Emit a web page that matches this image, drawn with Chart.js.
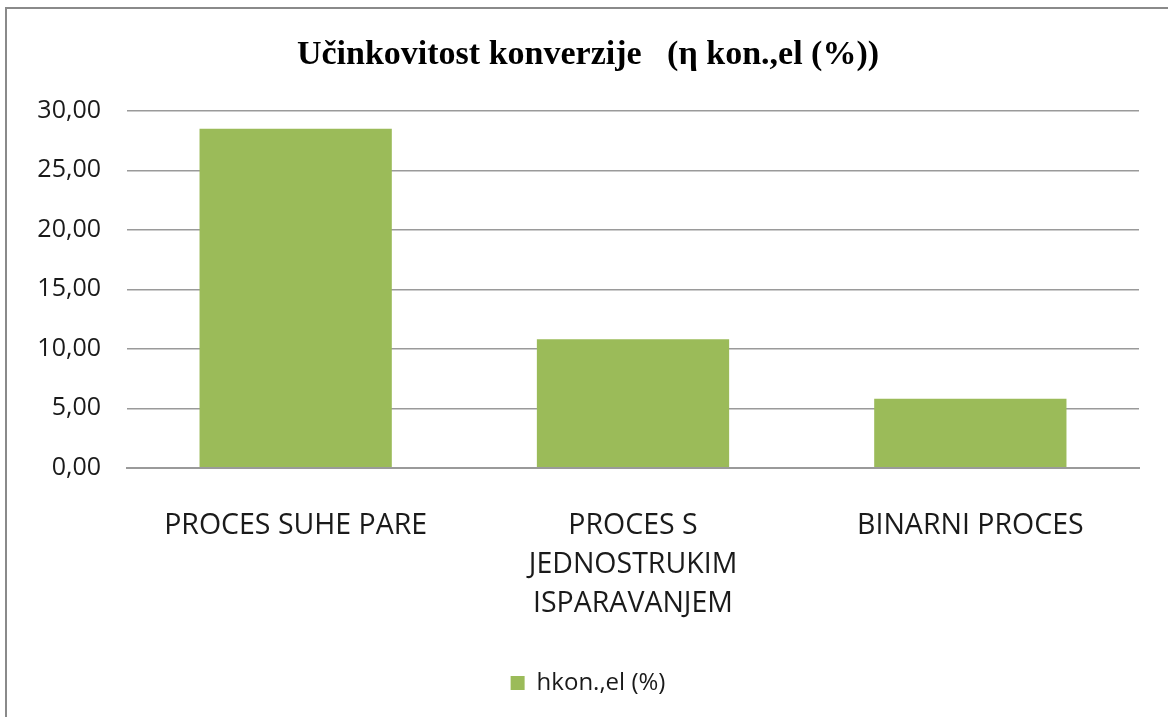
<!DOCTYPE html>
<html>
<head>
<meta charset="utf-8">
<script src="https://cdn.jsdelivr.net/npm/chart.js@4.4.1/dist/chart.umd.min.js"></script>
<style>
  html, body { margin: 0; padding: 0; background: #fff; overflow: hidden; }
  #frame { position: absolute; left: 5px; top: 7px; width: 1300px; height: 900px; border: 2px solid #8a8a8a; }
  #wrap { position: absolute; left: 0; top: 0; width: 1168px; height: 717px; }
</style>
</head>
<body>
<div id="frame"></div>
<div id="wrap"><canvas id="chart" width="1168" height="717"></canvas></div>
<script>
// podaci
var categories = [
  ["PROCES SUHE PARE"],
  ["PROCES S", "JEDNOSTRUKIM", "ISPARAVANJEM"],
  ["BINARNI PROCES"]
];
var efficiency = [28.5, 10.8, 5.8];
var seriesName = "hkon.,el (%)";
var titleText = "Učinkovitost konverzije   (η kon.,el (%))";
var yTicks = [0, 5, 10, 15, 20, 25, 30];

function fmt(v) {
  return v.toFixed(2).replace('.', ',');
}

var ctx = document.getElementById('chart').getContext('2d');
var chart = new Chart(ctx, {
  type: 'bar',
  data: {
    labels: categories,
    datasets: [{
      label: seriesName,
      data: efficiency,
      backgroundColor: "#9BBB59",
      borderWidth: 0,
      categoryPercentage: 1.0,
      barPercentage: 0.57
    }]
  },
  options: {
    responsive: false,
    animation: false,
    layout: { padding: { left: 37, right: 29, top: 0, bottom: 12 } },
    plugins: {
      title: {
        display: true,
        text: titleText,
        color: "#000",
        font: { family: "'Liberation Serif', 'Times New Roman', serif", size: 34, weight: 'bold' },
        padding: { top: 35, bottom: 35 }
      },
      legend: {
        position: 'bottom',
        labels: {
          color: "#1a1a1a",
          font: { family: "'Open Sans', sans-serif", size: 24 },
          boxWidth: 14,
          boxHeight: 14,
          padding: 10
        }
      },
      tooltip: { enabled: false }
    },
    scales: {
      x: {
        grid: { display: false, drawTicks: false },
        border: { display: true, color: "#9a9a9a", width: 2 },
        ticks: {
          color: "#1a1a1a",
          font: { family: "'Open Sans', sans-serif", size: 28.5, lineHeight: 1.37 },
          padding: 38,
          maxRotation: 0,
          autoSkip: false
        }
      },
      y: {
        min: 0,
        max: 30,
        afterBuildTicks: function (axis) {
          axis.ticks = yTicks.map(function (v) { return { value: v }; });
        },
        afterFit: function (axis) { axis.width = 90; },
        grid: { color: "#9a9a9a", lineWidth: 1.5, drawTicks: false },
        border: { display: false },
        ticks: {
          color: "#1a1a1a",
          font: { family: "'Open Sans', sans-serif", size: 25 },
          padding: 26,
          callback: function (v) { return fmt(v); }
        }
      }
    }
  }
});
</script>
</body>
</html>
